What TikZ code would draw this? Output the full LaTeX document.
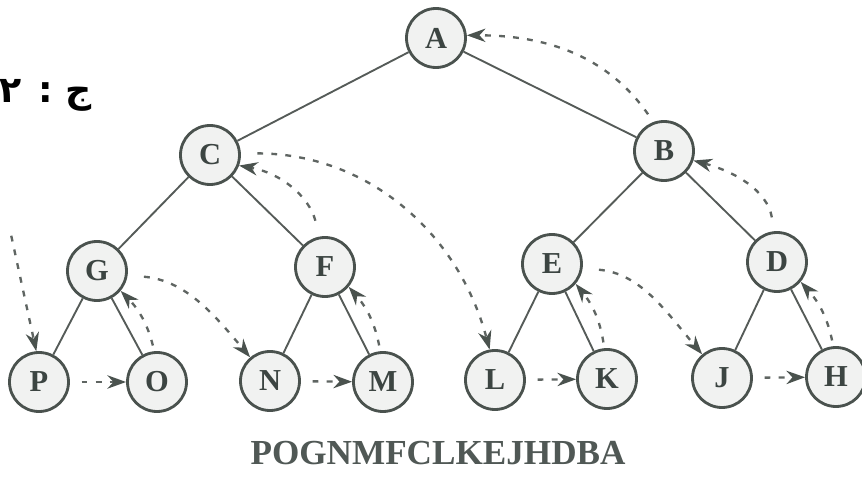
\documentclass[tikz,border=0pt]{standalone}
\usepackage{fontspec}
\setmainfont{Liberation Serif}
\newfontfamily\arabicfont[Script=Arabic]{DejaVu Sans}
\TeXXeTstate=1
\usetikzlibrary{arrows.meta}
\definecolor{Ink}{HTML}{3C4542}
\definecolor{Rim}{HTML}{4A524E}
\definecolor{Disc}{HTML}{F1F2F1}
\definecolor{Branch}{HTML}{555B58}
\definecolor{Thread}{HTML}{5F6562}
\tikzset{
  vertex/.style={circle,draw=Rim,fill=Disc,line width=2.4pt,minimum size=1.77cm,inner sep=0pt,font=\fontsize{26}{26}\selectfont\bfseries,text=Ink},
  branch/.style={draw=Branch,line width=1.6pt},
  thread/.style={-{Stealth[length=5.6mm,width=4mm,inset=1.8mm,color=Rim]},draw=Thread,line width=2pt,dash pattern=on 5pt off 7pt,shorten <=5pt},
  caption/.style={font=\fontsize{30}{30}\selectfont\bfseries,text=Ink!90,inner sep=0pt}
}

\begin{document}
\begin{tikzpicture}[x=0.03cm,y=0.03cm]
  \useasboundingbox (0,0) rectangle (862,478);
  % tree
  \node[vertex] (a) at (436,440) {A};
  \node[vertex] (c) at (210,323) {C};
  \node[vertex] (b) at (664,327) {B};
  \node[vertex] (g) at (97,207) {G};
  \node[vertex] (f) at (325,211) {F};
  \node[vertex] (e) at (552,214) {E};
  \node[vertex] (d) at (777,216) {D};
  \node[vertex] (p) at (39,96) {P};
  \node[vertex] (o) at (157,96) {O};
  \node[vertex] (n) at (270,97) {N};
  \node[vertex] (m) at (383,96) {M};
  \node[vertex] (l) at (495,98) {L};
  \node[vertex] (k) at (607,99) {K};
  \node[vertex] (j) at (722,100) {J};
  \node[vertex] (h) at (836,101) {H};
  \draw[branch] (a) -- (c);
  \draw[branch] (a) -- (b);
  \draw[branch] (c) -- (g);
  \draw[branch] (c) -- (f);
  \draw[branch] (b) -- (e);
  \draw[branch] (b) -- (d);
  \draw[branch] (g) -- (p);
  \draw[branch] (g) -- (o);
  \draw[branch] (f) -- (n);
  \draw[branch] (f) -- (m);
  \draw[branch] (e) -- (l);
  \draw[branch] (e) -- (k);
  \draw[branch] (d) -- (j);
  \draw[branch] (d) -- (h);
  % postorder threads
  \coordinate (prev) at (10,248);
  \draw[thread] (prev) -- (p.95);
  \draw[thread,shorten <=10pt] (p) -- (o);
  \draw[thread] (o.95) to[bend right=15] (g.-40);
  \draw[thread,shorten <=14pt] (g.-8) to[out=-5,in=130] (n.130);
  \draw[thread,shorten <=10pt] (n) -- (m);
  \draw[thread] (m.95) to[bend right=15] (f.-40);
  \draw[thread,shorten <=14pt] (f.100) to[out=105,in=-10] (c.-20);
  \draw[thread,shorten <=14pt] (c.3) to[out=0,in=105] (l.100);
  \draw[thread,shorten <=10pt] (l) -- (k);
  \draw[thread] (k.95) to[bend right=15] (e.-40);
  \draw[thread,shorten <=14pt] (e.-8) to[out=-5,in=130] (j.130);
  \draw[thread,shorten <=10pt] (j) -- (h);
  \draw[thread] (h.95) to[bend right=15] (d.-40);
  \draw[thread,shorten <=12pt] (d.95) to[out=100,in=-15] (b.-18);
  \draw[thread,shorten <=8pt] (b.110) to[out=125,in=0] (a.5);
  % answer line and order
  \node[anchor=base east,inner sep=0pt,font=\arabicfont\bfseries\fontsize{31}{31}\selectfont] (tag) at (92,375) {\beginR ج : ٢\endR};
  \node[caption,anchor=base] (order) at (438,13) {POGNMFCLKEJHDBA};
\end{tikzpicture}
\end{document}
